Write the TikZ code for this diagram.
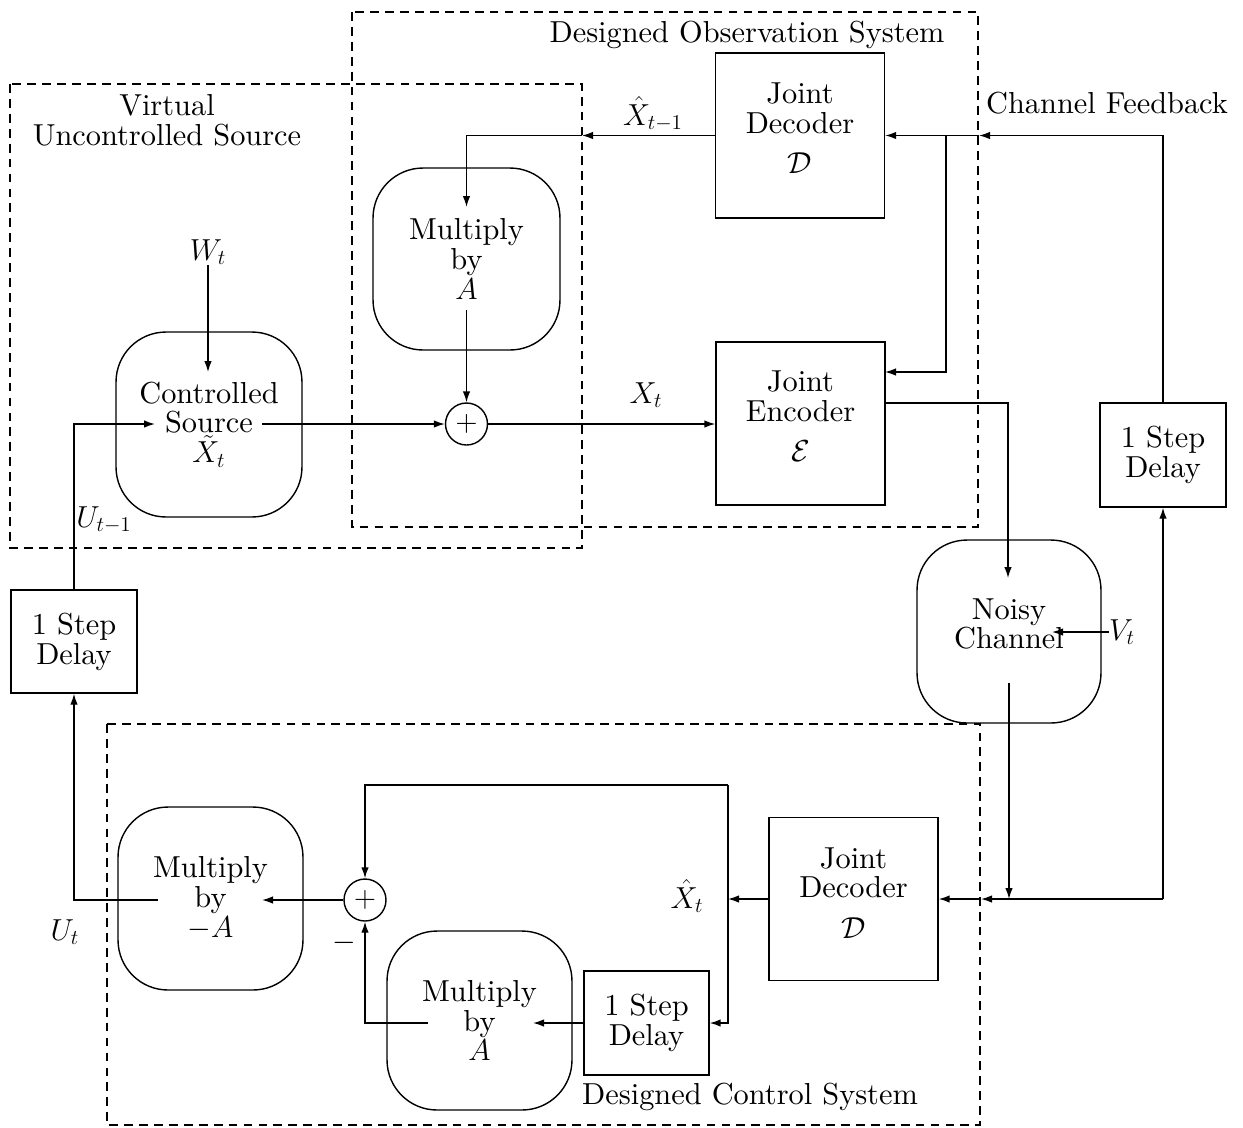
\documentclass[tikz,border=0pt]{standalone}
\usepackage{fontspec}
\setmainfont{lmroman10}[Extension=.otf, UprightFont=*-regular, ItalicFont=*-italic, BoldFont=*-bold]
\usetikzlibrary{arrows.meta,calc}
\newcommand\fs{\fontsize{17.28}{17}\selectfont}
\newcommand\dstrut[1]{\rule[-#1]{0pt}{#1}}
\tikzset{
  lbl/.style={font=\fs, inner sep=0pt},
  box/.style={draw, rectangle, align=center, inner sep=0pt, font=\fs, line width=0.8pt},
  rbox/.style={box, rounded corners=1cm},
  sumc/.style={draw, circle, minimum size=0.84cm, inner sep=0pt, line width=0.8pt, font=\fs},
  arr/.style={-{Latex[length=2.2mm,width=1.5mm]}, line width=0.8pt},
  region/.style={draw, dash pattern=on 5pt off 3.5pt, line width=0.7pt},
}
\begin{document}
\begin{tikzpicture}[x=0.02cm, y=-0.02cm]
\useasboundingbox (0,0) rectangle (1243,1127);
% dashed regions
\draw[region] (10,84) rectangle (582,548);
\draw[region] (352,12) rectangle (978,527);
\draw[region] (107,724) rectangle (980,1125);
% region labels
\node[lbl, align=center] (vus) at (167,120) {Virtual\\Uncontrolled Source};
\node[lbl, anchor=base] (dos) at (747,42) {Designed Observation System};
\node[lbl, anchor=base] (dcs) at (750,1104) {Designed Control System};
\node[lbl, anchor=base] (cf) at (1107,113) {Channel Feedback};
% blocks
\node[box, minimum width=3.38cm, minimum height=3.3cm] (dec1) at (800,135.5) {Joint\\Decoder\\[6pt]$\mathcal{D}$\dstrut{8pt}};
\node[box, minimum width=3.38cm, minimum height=3.26cm] (enc) at (800.5,423.5) {Joint\\Encoder\\[6pt]$\mathcal{E}$\dstrut{8pt}};
\node[rbox, minimum width=3.74cm, minimum height=3.64cm] (mulA1) at (466.5,259) {Multiply\\by\\$A$};
\node[sumc] (sum1) at (466.5,424) {$+$};
\node[rbox, minimum width=3.72cm, minimum height=3.7cm] (src) at (209,424.5) {Controlled\\Source\\$\tilde X_t$};
\node[box, minimum width=2.52cm, minimum height=2.08cm] (dlyR) at (1163,455) {1 Step\\Delay};
\node[rbox, minimum width=3.68cm, minimum height=3.66cm] (chan) at (1009,631.5) {Noisy\\Channel\dstrut{9pt}};
\node[box, minimum width=2.52cm, minimum height=2.06cm] (dlyL) at (74,641.5) {1 Step\\Delay};
\node[rbox, minimum width=3.7cm, minimum height=3.66cm] (mulNA) at (210.5,898.5) {Multiply\\by\\$-A$};
\node[sumc] (sum2) at (365,900) {$+$};
\node[rbox, minimum width=3.7cm, minimum height=3.58cm] (mulA2) at (479.5,1020.5) {Multiply\\by\\$A$};
\node[box, minimum width=2.5cm, minimum height=2.08cm] (dlyB) at (646.5,1023) {1 Step\\Delay};
\node[box, minimum width=3.38cm, minimum height=3.26cm] (dec2) at (853.5,899) {Joint\\Decoder\\[6pt]$\mathcal{D}$\dstrut{7pt}};
% signal labels
\node[lbl, anchor=base] (Wt) at (208,260) {$W_t$};
\node[lbl, anchor=base] (Utm) at (104,527) {$U_{t-1}$};
\node[lbl, anchor=base] (Xt) at (646,403) {$X_t$};
\node[lbl, anchor=base] (Xh1) at (653,125) {$\hat X_{t-1}$};
\node[lbl, anchor=base] (Vt) at (1122,640) {$V_t$};
\node[lbl, anchor=base] (Ut) at (65,940) {$U_t$};
\node[lbl, anchor=base] (Xht) at (687,908) {$\hat X_t$};
\node[lbl] (minus) at (344,943) {$-$};
% coordinates
\coordinate (p1) at (582,135.5);
\coordinate (mA1in) at (466.5,207);
\coordinate (mA1out) at (466.5,310);
\coordinate (srcout) at (262,424);
\coordinate (srcinW) at (208,372);
\coordinate (srcinU) at (155,424);
\coordinate (eo) at (885,403);
\coordinate (chin) at (1008,578);
\coordinate (cho) at (1009,683);
\coordinate (j1) at (1009,899);
\coordinate (j2) at (1163,899);
\coordinate (p2) at (981,899);
\coordinate (p3) at (979,135.5);
\coordinate (b1) at (946,135.5);
\coordinate (ei) at (885,372);
\coordinate (vin) at (1052,632);
\coordinate (xh) at (728,899);
\coordinate (t1) at (728,785);
\coordinate (mA2in) at (533,1023);
\coordinate (mA2out) at (428,1023);
\coordinate (mNAin) at (262,900);
\coordinate (mNAout) at (158,900);
% connectors: observation part
\draw[arr] (dec1.west) -- (p1);
\draw[arr] (p1) -| (mA1in);
\draw[arr] (mA1out) -- (sum1.north);
\draw[arr] (srcout) -- (sum1.west);
\draw[arr] (sum1.east) -- (enc.west |- sum1.east);
\draw[arr] (Wt.south) -- (srcinW);
\draw[arr] (dlyL.north) |- (srcinU);
\draw[arr] (eo) -| (chin);
\draw[arr] (Vt.west |- vin) -- (vin);
\draw[arr] (cho) -- (j1);
\draw[line width=0.8pt] (j1) -- (j2);
\draw[arr] (j2) -- (p2);
\draw[arr] (p2) -- (dec2.east);
\draw[arr] (j2) -- (dlyR.south);
\draw[arr] (dlyR.north) |- (p3);
\draw[arr] (p3) -- (dec1.east);
\draw[arr] (b1) |- (ei);
% connectors: control part
\draw[arr] (dec2.west) -- (xh);
\draw[arr] (t1) -| (sum2.north);
\draw[arr] (t1) |- (dlyB.east);
\draw[arr] (dlyB.west) -- (mA2in);
\draw[arr] (mA2out) -| (sum2.south);
\draw[arr] (sum2.west) -- (mNAin);
\draw[arr] (mNAout) -| (dlyL.south);
\end{tikzpicture}
\end{document}
